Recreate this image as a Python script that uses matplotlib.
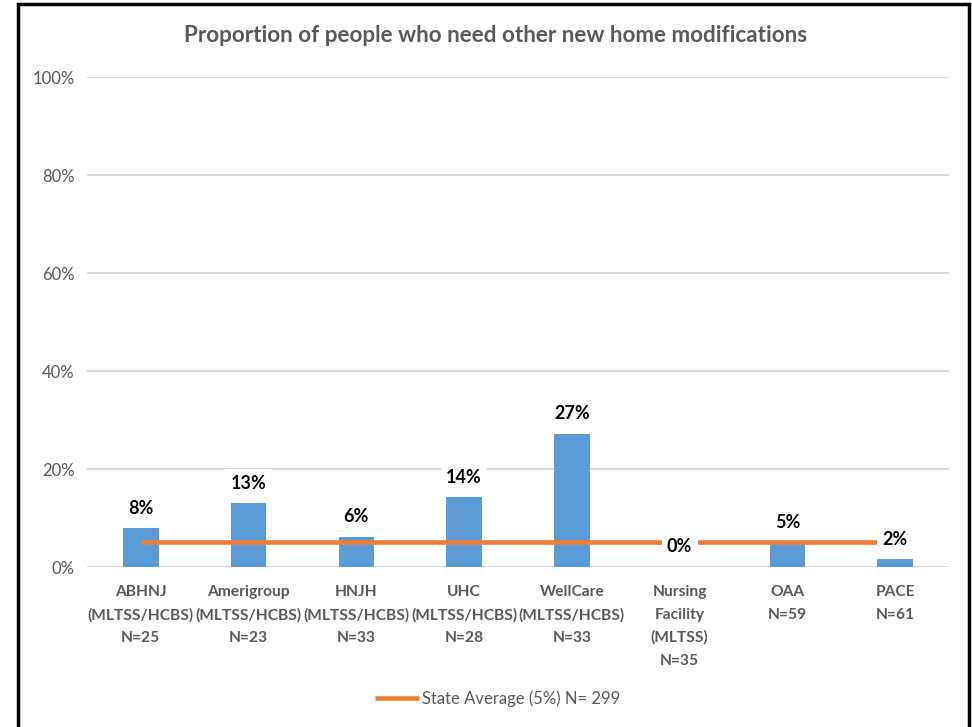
import matplotlib
matplotlib.use("Agg")
import matplotlib.pyplot as plt
import matplotlib.patches as mpatches
import numpy as np

plt.rcParams["font.family"] = ["Lato", "DejaVu Sans"]

########################################################

categories = [
    "ABHNJ\n(MLTSS/HCBS)\nN=25",
    "Amerigroup\n(MLTSS/HCBS)\nN=23",
    "HNJH\n(MLTSS/HCBS)\nN=33",
    "UHC\n(MLTSS/HCBS)\nN=28",
    "WellCare\n(MLTSS/HCBS)\nN=33",
    "Nursing\nFacility\n(MLTSS)\nN=35",
    "OAA\nN=59",
    "PACE\nN=61",
]
values = [7.9, 13.0, 6.1, 14.2, 27.2, 0.0, 4.9, 1.6]
state_avg = 5.1
legend_label = "State Average (5%) N= 299"
title = "Proportion of people who need other new home modifications"
yticks = [0, 20, 40, 60, 80, 100]

BLUE = "#5B9BD5"
ORANGE = "#ED7D31"
GRID = "#D9D9D9"
TXT = "#595959"

########################################################

fig = plt.figure(figsize=(9.72, 7.27), dpi=100)
ax = fig.add_axes([87 / 972, 1 - 567 / 727, 862 / 972, 490 / 727])

x = np.arange(len(categories))
ax.bar(x, values, width=0.33, color=BLUE, zorder=2)
line, = ax.plot(x, [state_avg] * len(x), color=ORANGE, lw=3.3, solid_capstyle="butt",
                zorder=3, label=legend_label)

for xi, v in zip(x, values):
    ax.annotate(f"{v:.0f}%", (xi, v), xytext=(0, 14.5), textcoords="offset points",
                ha="center", va="center", fontsize=13, fontweight="bold", color="black",
                bbox=dict(boxstyle="square,pad=0.3", fc="white", ec="none"), zorder=4)

ax.set_xlim(-0.5, len(x) - 0.5)
ax.set_ylim(0, 100)
ax.set_yticks(yticks)
ax.set_yticklabels([f"{t}%" for t in yticks])
ax.set_xticks(x)
ax.set_xticklabels(categories, fontweight="bold", linespacing=1.78)
ax.tick_params(axis="y", length=0, pad=9, labelsize=12, labelcolor=TXT)
ax.tick_params(axis="x", length=0, pad=13, labelsize=11.2, labelcolor=TXT)
ax.grid(axis="y", color=GRID, lw=1.5, zorder=0)
ax.set_axisbelow(True)
for s in ax.spines.values():
    s.set_visible(False)

fig.text(496 / 972, 1 - 36 / 727, title, ha="center", va="center",
         fontsize=16.2, fontweight="bold", color=TXT)

fig.legend(handles=[line], loc="center", bbox_to_anchor=(0.512, 1 - 699 / 727),
           frameon=False, fontsize=12, labelcolor=TXT, handlelength=2.6, handletextpad=0.2)

frame = mpatches.Rectangle((18 / 972, -0.05), 951 / 972, 1.05 - 4 / 727,
                           transform=fig.transFigure, fill=False, ec="black", lw=2.5)
fig.add_artist(frame)

fig.savefig("out.png", dpi=100)
